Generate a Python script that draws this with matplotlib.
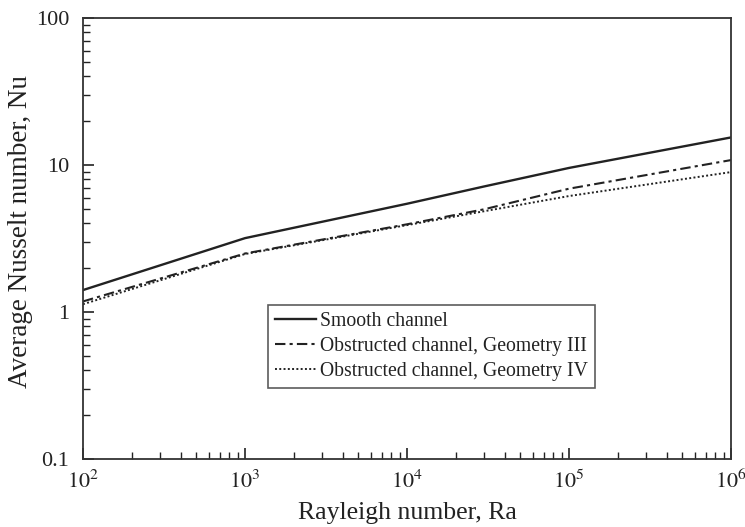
import matplotlib
matplotlib.use("Agg")
import matplotlib.pyplot as plt
from matplotlib.ticker import LogLocator, FixedLocator, FixedFormatter, NullFormatter

plt.rcParams['font.family'] = ['Liberation Serif', 'DejaVu Serif']
plt.rcParams['mathtext.fontset'] = 'stix'

# Rayleigh numbers and average Nusselt numbers
ra = [1e2, 1e3, 1e4, 3e4, 1e5, 1e6]
nu_smooth = [1.41, 3.18, 5.45, 7.15, 9.55, 15.4]
nu_geom3 = [1.18, 2.5, 3.95, 5.0, 6.9, 10.8]
nu_geom4 = [1.13, 2.48, 3.9, 4.85, 6.15, 8.95]

labels = ['Smooth channel',
          'Obstructed channel, Geometry III',
          'Obstructed channel, Geometry IV']

ink = '#222222'

fig = plt.figure(figsize=(7.45, 5.27), dpi=100)
ax = fig.add_axes([83/745, 1 - 459/527, 648/745, 441/527])

ax.plot(ra, nu_smooth, color=ink, lw=1.7, ls='-', label=labels[0])
ax.plot(ra, nu_geom3, color=ink, lw=1.5, ls=(0, (5, 2, 1.5, 2)), label=labels[1])
ax.plot(ra, nu_geom4, color=ink, lw=1.4, ls=(0, (1, 1.2)), label=labels[2])

ax.set_xscale('log')
ax.set_yscale('log')
ax.set_xlim(1e2, 1e6)
ax.set_ylim(0.1, 100)

ax.xaxis.set_major_locator(FixedLocator([1e2, 1e3, 1e4, 1e5, 1e6]))
ax.xaxis.set_major_formatter(FixedFormatter([r'$10^{%d}$' % e for e in range(2, 7)]))
ax.xaxis.set_minor_locator(LogLocator(base=10, subs=range(2, 10), numticks=20))
ax.xaxis.set_minor_formatter(NullFormatter())

ax.yaxis.set_major_locator(FixedLocator([0.1, 1, 10, 100]))
ax.yaxis.set_major_formatter(FixedFormatter(['0.1', '1', '10', '100']))
ax.yaxis.set_minor_locator(LogLocator(base=10, subs=range(2, 10), numticks=20))
ax.yaxis.set_minor_formatter(NullFormatter())

ax.tick_params(which='both', direction='in', color=ink, labelcolor=ink,
               labelsize=16)
ax.tick_params(which='major', length=8, width=1.2)
ax.tick_params(which='minor', length=5, width=1.0)
ax.tick_params(axis='x', pad=8)
ax.tick_params(axis='y', pad=10)

for sp in ax.spines.values():
    sp.set_color('#333333')
    sp.set_linewidth(1.3)

ax.set_xlabel('Rayleigh number, Ra', fontsize=18.5, color=ink, labelpad=6)
ax.set_ylabel('Average Nusselt number, Nu', fontsize=19.5, color=ink)
ax.yaxis.set_label_coords(-0.077, 0.515)

leg = ax.legend(loc='upper left', bbox_to_anchor=(268/745, 1 - 305/527),
                bbox_transform=fig.transFigure, borderaxespad=0,
                fancybox=False, frameon=True, fontsize=14.2,
                handlelength=2.1, handletextpad=0.2, labelspacing=0.3,
                borderpad=0.35)
leg.get_frame().set_edgecolor('#333333')
leg.get_frame().set_linewidth(1.2)
for t in leg.get_texts():
    t.set_color(ink)

fig.savefig('out.png', dpi=100)
